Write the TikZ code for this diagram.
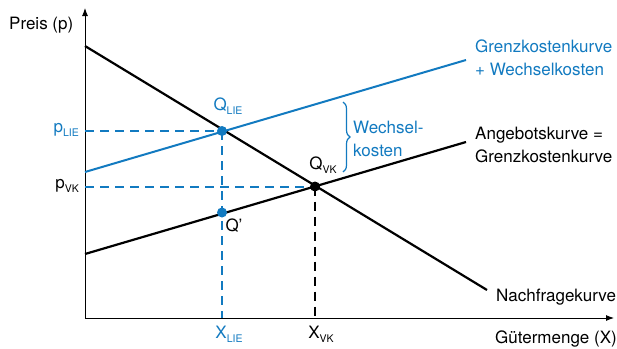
\documentclass[tikz,border=0pt]{standalone}
\usepackage{fontspec}
\setmainfont{TeX Gyre Heros}
\usetikzlibrary{arrows.meta,decorations.pathreplacing}
\definecolor{cblue}{RGB}{18,122,192}
\newcommand{\sbs}[1]{\raisebox{-0.45ex}{\fontsize{10.5}{10.5}\selectfont #1}}
\begin{document}
\begin{tikzpicture}[x=1pt,y=-1pt,
  lbl/.style={font=\fontsize{17}{22.5}\selectfont, inner sep=0pt},
  axis/.style={line width=0.9pt, -{Latex[length=8pt,width=6pt]}},
  curve/.style={line width=2.2pt, line cap=butt},
  bcurve/.style={line width=2pt, cblue},
  dashline/.style={line width=2pt, dash pattern=on 9pt off 6pt},
  dot/.style={circle, fill, inner sep=0pt, minimum size=10pt}]
\useasboundingbox (0,0) rectangle (617,348);
% axes
\coordinate (O) at (85,318);
\coordinate (Ytop) at (85,8);
\coordinate (Xend) at (614,318);
\draw[axis] (O) -- (Ytop);
\draw[axis] (O) -- (Xend);
% curves
\coordinate (D1) at (85,46);
\coordinate (D2) at (487,290);
\coordinate (B1) at (85,172);
\coordinate (B2) at (466,60);
\coordinate (S1) at (85,254);
\coordinate (S2) at (466,142);
% points
\coordinate (QL) at (222,131);
\coordinate (QP) at (222,212.5);
\coordinate (QV) at (315,186.5);
\coordinate (pL) at (85,131);
\coordinate (pV) at (85,186.5);
\coordinate (xL) at (222,318);
\coordinate (xV) at (315,318);
% dashed guide lines
\draw[dashline, cblue] (pL) -- (QL);
\draw[dashline, cblue] (pV) -- (QV);
\draw[dashline, cblue] (QL) -- (xL);
\draw[dashline, black] (QV) -- (xV);
% lines
\draw[curve] (D1) -- (D2);
\draw[curve] (S1) -- (S2);
\draw[bcurve] (B1) -- (B2);
% dots
\node[dot, cblue] (nQL) at (QL) {};
\node[dot, cblue] (nQP) at (QP) {};
\node[dot, black] (nQV) at (QV) {};
% brace
\coordinate (brT) at (343,102);
\coordinate (brB) at (343,172);
\draw[cblue, line width=1.2pt, decorate, decoration={brace, amplitude=7pt}] (brT) -- (brB);
\node[lbl, cblue, anchor=west, align=left] (wk) at (353,139) {Wechsel-\\kosten};
% labels
\node[lbl, anchor=west] (py) at (9,25) {Preis (p)};
\node[lbl, anchor=east] (gx) at (617,339) {Gütermenge (X)};
\node[lbl, anchor=west] (nf) at (496,297) {Nachfragekurve};
\node[lbl, anchor=west, align=left] (ak) at (475,145) {Angebotskurve =\\Grenzkostenkurve};
\node[lbl, cblue, anchor=west, align=left] (gk) at (475,58) {Grenzkostenkurve\\+ Wechselkosten};
\node[lbl, cblue] (lQL) at (228,106) {Q\sbs{LIE}};
\node[lbl] (lQV) at (323,165) {Q\sbs{VK}};
\node[lbl] (lQP) at (234,226) {Q'};
\node[lbl, cblue, anchor=east] (lpL) at (79,130) {p\sbs{LIE}};
\node[lbl, anchor=east] (lpV) at (79,186) {p\sbs{VK}};
\node[lbl, cblue] (lxL) at (229,334) {X\sbs{LIE}};
\node[lbl] (lxV) at (321,334) {X\sbs{VK}};
\end{tikzpicture}
\end{document}
